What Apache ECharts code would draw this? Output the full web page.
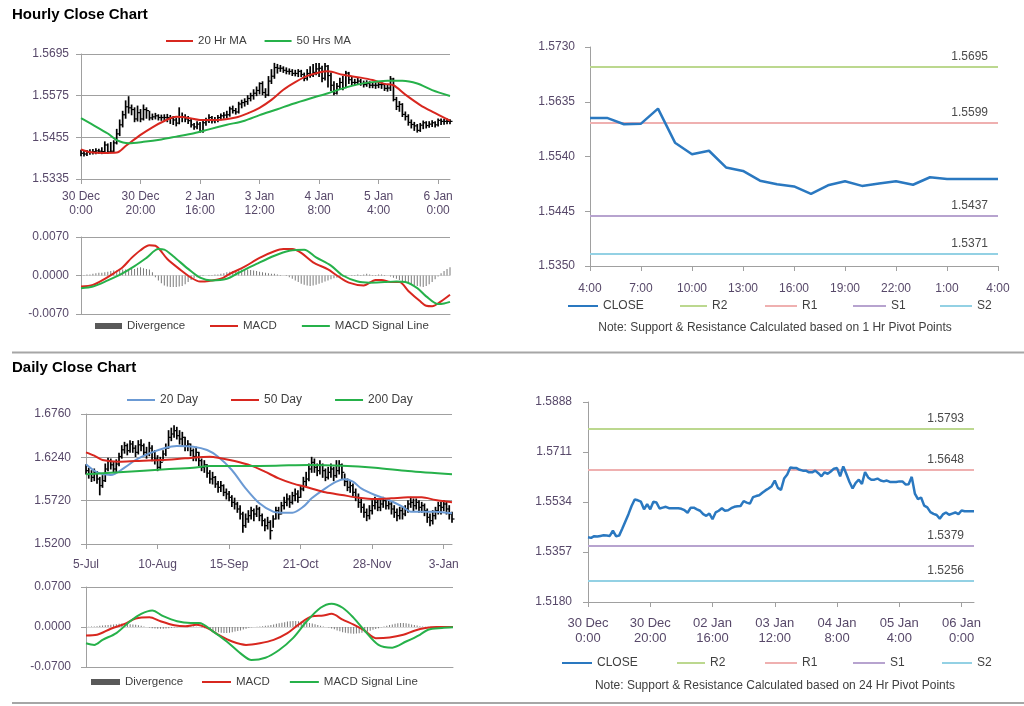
<!DOCTYPE html>
<html><head><meta charset="utf-8">
<script src="https://cdn.jsdelivr.net/npm/echarts@6/dist/echarts.min.js"></script>
<style>html,body{margin:0;padding:0;background:#fff}#c{width:1024px;height:706px}</style>
</head><body><div id="c"></div><script>
// ---------------- DATA ----------------
const hourlyTicks = ['30 Dec\n0:00','30 Dec\n20:00','2 Jan\n16:00','3 Jan\n12:00','4 Jan\n8:00','5 Jan\n4:00','6 Jan\n0:00'];
const hourlyPivotTicks = ['30 Dec\n0:00','30 Dec\n20:00','02 Jan\n16:00','03 Jan\n12:00','04 Jan\n8:00','05 Jan\n4:00','06 Jan\n0:00'];
const hourlyClose = [
1.5409,1.5407,1.5413,1.5412,1.5414,1.5416,1.5415,1.5414,1.5433,1.5413,
1.5415,1.5439,1.5465,1.5491,1.5520,1.5543,1.5540,1.5535,1.5508,1.5526,
1.5508,1.5535,1.5532,1.5511,1.5514,1.5517,1.5512,1.5512,1.5512,1.5512,
1.5510,1.5505,1.5496,1.5514,1.5514,1.5508,1.5503,1.5491,1.5485,1.5493,
1.5473,1.5497,1.5503,1.5512,1.5503,1.5505,1.5512,1.5517,1.5519,1.5520,
1.5537,1.5532,1.5528,1.5551,1.5555,1.5558,1.5567,1.5575,1.5582,1.5590,
1.5610,1.5584,1.5577,1.5617,1.5631,1.5656,1.5654,1.5654,1.5648,1.5645,
1.5645,1.5639,1.5639,1.5645,1.5636,1.5625,1.5639,1.5634,1.5642,1.5652,
1.5654,1.5625,1.5660,1.5633,1.5605,1.5582,1.5602,1.5613,1.5598,1.5640,
1.5621,1.5613,1.5613,1.5617,1.5610,1.5607,1.5610,1.5605,1.5605,1.5605,
1.5607,1.5607,1.5596,1.5597,1.5623,1.5564,1.5544,1.5550,1.5521,1.5515,
1.5498,1.5492,1.5488,1.5475,1.5490,1.5497,1.5489,1.5493,1.5497,1.5491,
1.5504,1.5501,1.5501,1.5501,1.5501];
const hourlyHigh = [
1.5418,1.5415,1.5417,1.5419,1.5420,1.5422,1.5421,1.5425,1.5442,1.5436,
1.5440,1.5445,1.5478,1.5505,1.5530,1.5560,1.5572,1.5548,1.5540,1.5545,
1.5535,1.5548,1.5540,1.5530,1.5522,1.5524,1.5520,1.5519,1.5520,1.5521,
1.5518,1.5515,1.5510,1.5540,1.5525,1.5520,1.5515,1.5508,1.5495,1.5500,
1.5498,1.5505,1.5510,1.5520,1.5515,1.5512,1.5518,1.5522,1.5526,1.5530,
1.5542,1.5545,1.5538,1.5556,1.5562,1.5566,1.5575,1.5582,1.5592,1.5600,
1.5612,1.5615,1.5595,1.5630,1.5650,1.5668,1.5665,1.5662,1.5658,1.5655,
1.5652,1.5650,1.5648,1.5650,1.5648,1.5640,1.5650,1.5658,1.5665,1.5668,
1.5668,1.5660,1.5668,1.5662,1.5640,1.5615,1.5610,1.5625,1.5630,1.5645,
1.5642,1.5628,1.5622,1.5625,1.5622,1.5617,1.5618,1.5615,1.5612,1.5612,
1.5614,1.5613,1.5610,1.5605,1.5630,1.5625,1.5570,1.5558,1.5552,1.5528,
1.5520,1.5505,1.5498,1.5492,1.5495,1.5502,1.5500,1.5500,1.5503,1.5500,
1.5508,1.5508,1.5507,1.5508,1.5506];
const hourlyLow = [
1.5402,1.5401,1.5403,1.5406,1.5407,1.5408,1.5409,1.5408,1.5410,1.5409,
1.5411,1.5412,1.5436,1.5460,1.5485,1.5510,1.5525,1.5520,1.5500,1.5502,
1.5500,1.5505,1.5510,1.5505,1.5506,1.5508,1.5505,1.5504,1.5503,1.5500,
1.5495,1.5492,1.5488,1.5494,1.5500,1.5500,1.5495,1.5485,1.5478,1.5480,
1.5470,1.5470,1.5490,1.5498,1.5496,1.5497,1.5500,1.5506,1.5510,1.5512,
1.5516,1.5525,1.5522,1.5525,1.5540,1.5545,1.5550,1.5560,1.5565,1.5575,
1.5580,1.5578,1.5570,1.5575,1.5610,1.5625,1.5640,1.5645,1.5642,1.5638,
1.5637,1.5633,1.5632,1.5630,1.5630,1.5618,1.5620,1.5628,1.5630,1.5635,
1.5630,1.5615,1.5620,1.5600,1.5590,1.5578,1.5580,1.5595,1.5592,1.5598,
1.5610,1.5605,1.5606,1.5608,1.5605,1.5600,1.5602,1.5598,1.5598,1.5596,
1.5598,1.5596,1.5590,1.5588,1.5590,1.5560,1.5535,1.5530,1.5515,1.5505,
1.5490,1.5482,1.5475,1.5470,1.5472,1.5480,1.5482,1.5484,1.5486,1.5485,
1.5488,1.5492,1.5493,1.5494,1.5494];
const ma20Hour = [[0,1.5420],[4,1.5411],[8,1.5410],[12,1.5411],[15,1.5430],[20,1.5462],[24,1.5484],[28,1.5502],[32,1.5514],[36,1.5511],[40,1.5505],[46,1.5505],[52,1.5512],[56,1.5524],[60,1.5540],[64,1.5563],[68,1.5592],[72,1.5614],[76,1.5632],[80,1.5642],[83,1.5645],[88,1.5635],[94,1.5627],[98,1.5620],[102,1.5609],[105,1.5605],[109,1.5578],[114,1.5548],[118,1.5529],[124,1.5503]];
const ma50Hour = [[0,1.5510],[4,1.5491],[9,1.5466],[12,1.5447],[16,1.5438],[21,1.5442],[27,1.5449],[32,1.5457],[38,1.5467],[43,1.5478],[49,1.5491],[55,1.5503],[60,1.5519],[66,1.5536],[71,1.5551],[77,1.5567],[83,1.5582],[88,1.5596],[94,1.5609],[99,1.5615],[103,1.5618],[108,1.5618],[113,1.5610],[118,1.5591],[124,1.5574]];
const hourlyPriceTicks = [1.5335,1.5455,1.5575,1.5695];
const hourlyDivergence = [
0.0001,0.0001,0.0002,0.0002,0.0003,
0.0004,0.0005,0.0005,0.0006,0.0007,0.0008,
0.0009,0.0009,0.0010,0.0011,0.0011,0.0012,0.0013,0.0012,
0.0014,0.0015,0.0013,0.0012,0.0011,0.0006,
-0.0003,-0.0009,-0.0014,-0.0018,
-0.0020,-0.0021,-0.0021,-0.0021,-0.0020,-0.0019,-0.0016,-0.0012,
-0.0008,-0.0005,-0.0003,-0.0002,-0.0001,0.0000,
0.0001,0.0001,0.0002,0.0002,
0.0003,0.0004,0.0006,0.0007,0.0008,0.0009,0.0010,0.0011,0.0010,0.0011,0.0010,0.0009,0.0008,0.0007,
0.0006,0.0005,0.0004,0.0003,0.0003,0.0002,0.0001,0.0000,-0.0001,-0.0003,
-0.0006,-0.0009,-0.0012,-0.0015,-0.0017,-0.0018,-0.0019,-0.0018,-0.0017,-0.0015,
-0.0013,-0.0011,-0.0009,-0.0007,-0.0005,-0.0004,-0.0003,-0.0002,-0.0001,0.0000,
0.0001,0.0001,0.0002,-0.0001,0.0002,0.0003,0.0002,0.0001,0.0001,0.0002,0.0002,0.0001,0.0000,-0.0002,
-0.0004,-0.0006,-0.0008,-0.0010,-0.0012,-0.0014,-0.0016,-0.0018,-0.0019,-0.0020,-0.0021,-0.0019,-0.0016,-0.0012,-0.0007,-0.0002,
0.0004,0.0008,0.0012,0.0015];
const hourlyMacd = [[0,-0.0020],[4,-0.0017],[8,-0.0006],[11,0.0004],[14,0.0015],[17,0.0032],[20,0.0046],[23,0.0055],[25,0.0054],[29,0.0030],[33,0.0012],[37,-0.0004],[40,-0.0011],[43,-0.0010],[47,-0.0006],[50,0.0003],[55,0.0016],[60,0.0032],[65,0.0044],[68,0.0048],[71,0.0048],[74,0.0041],[78,0.0024],[83,0.0011],[86,0.0000],[90,-0.0013],[95,-0.0018],[99,-0.0008],[101,-0.0008],[104,-0.0012],[107,-0.0012],[110,-0.0028],[114,-0.0047],[116,-0.0055],[118,-0.0056],[121,-0.0047],[124,-0.0035]];
const hourlySignal = [[0,-0.0023],[4,-0.0020],[9,-0.0009],[13,0.0001],[18,0.0017],[22,0.0032],[26,0.0048],[28,0.0047],[31,0.0035],[36,0.0012],[40,-0.0004],[44,-0.0009],[49,-0.0006],[53,0.0005],[59,0.0021],[65,0.0036],[70,0.0045],[75,0.0047],[79,0.0033],[84,0.0018],[88,0.0000],[93,-0.0011],[97,-0.0013],[102,-0.0012],[106,-0.0011],[109,-0.0012],[113,-0.0023],[116,-0.0038],[120,-0.0052],[122,-0.0051],[124,-0.0048]];

const pivot1hTicks = ['4:00','7:00','10:00','13:00','16:00','19:00','22:00','1:00','4:00'];
const pivot1hAxisTicks = [1.5350,1.5445,1.5540,1.5635,1.5730];
const pivot1hClose = hourlyClose.slice(100);
const pivot1hR2 = 1.5695, pivot1hR1 = 1.5599, pivot1hS1 = 1.5437, pivot1hS2 = 1.5371;
const pivot24hAxisTicks = [1.5180,1.5357,1.5534,1.5711,1.5888];
const pivot24hR2 = 1.5793, pivot24hR1 = 1.5648, pivot24hS1 = 1.5379, pivot24hS2 = 1.5256;

const dailyTicks = ['5-Jul','10-Aug','15-Sep','21-Oct','28-Nov','3-Jan'];
const dailyPriceTicks = [1.5200,1.5720,1.6240,1.6760];
const dailyClose = [
1.6080,1.6040,1.6000,1.6060,1.5980,1.5900,1.5960,1.6100,1.6200,1.6150,
1.6100,1.6160,1.6250,1.6330,1.6380,1.6320,1.6400,1.6350,1.6300,1.6390,
1.6380,1.6300,1.6280,1.6350,1.6300,1.6220,1.6120,1.6180,1.6280,1.6350,
1.6480,1.6520,1.6560,1.6500,1.6460,1.6480,1.6380,1.6400,1.6320,1.6250,
1.6300,1.6200,1.6120,1.6150,1.6050,1.5980,1.6000,1.5920,1.5880,1.5900,
1.5820,1.5800,1.5760,1.5700,1.5680,1.5620,1.5560,1.5420,1.5500,1.5540,
1.5600,1.5560,1.5620,1.5540,1.5480,1.5420,1.5460,1.5360,1.5500,1.5600,
1.5560,1.5660,1.5700,1.5740,1.5700,1.5780,1.5800,1.5760,1.5860,1.5950,
1.5980,1.6100,1.6180,1.6120,1.6080,1.6150,1.6080,1.6000,1.6060,1.6100,
1.6020,1.6080,1.6150,1.6060,1.5950,1.5880,1.5900,1.5820,1.5760,1.5700,
1.5640,1.5580,1.5540,1.5600,1.5660,1.5700,1.5640,1.5680,1.5720,1.5660,
1.5680,1.5620,1.5580,1.5540,1.5600,1.5560,1.5620,1.5680,1.5700,1.5660,
1.5700,1.5640,1.5660,1.5600,1.5520,1.5480,1.5540,1.5600,1.5660,1.5640,
1.5680,1.5620,1.5560,1.5500];
const dailyHigh = [
1.6150,1.6110,1.6080,1.6100,1.6070,1.6000,1.6020,1.6160,1.6230,1.6220,
1.6180,1.6210,1.6290,1.6380,1.6420,1.6400,1.6440,1.6430,1.6380,1.6440,
1.6450,1.6400,1.6360,1.6420,1.6380,1.6320,1.6260,1.6240,1.6320,1.6400,
1.6560,1.6590,1.6620,1.6600,1.6560,1.6540,1.6480,1.6440,1.6400,1.6340,
1.6360,1.6300,1.6220,1.6200,1.6150,1.6080,1.6060,1.6010,1.5950,1.5950,
1.5910,1.5860,1.5830,1.5780,1.5750,1.5700,1.5660,1.5580,1.5560,1.5600,
1.5640,1.5620,1.5660,1.5640,1.5560,1.5500,1.5520,1.5480,1.5540,1.5640,
1.5640,1.5700,1.5760,1.5800,1.5780,1.5820,1.5860,1.5840,1.5900,1.6000,
1.6060,1.6160,1.6240,1.6220,1.6160,1.6200,1.6160,1.6100,1.6120,1.6160,
1.6120,1.6200,1.6200,1.6160,1.6040,1.5980,1.5960,1.5920,1.5860,1.5800,
1.5740,1.5680,1.5620,1.5660,1.5720,1.5760,1.5740,1.5740,1.5760,1.5740,
1.5730,1.5700,1.5660,1.5620,1.5640,1.5640,1.5660,1.5720,1.5760,1.5740,
1.5740,1.5720,1.5700,1.5680,1.5620,1.5560,1.5600,1.5640,1.5700,1.5700,
1.5720,1.5700,1.5660,1.5580];
const dailyLow = [
1.6040,1.5990,1.5950,1.5960,1.5930,1.5790,1.5880,1.5950,1.6080,1.6100,
1.6060,1.6060,1.6140,1.6230,1.6290,1.6270,1.6300,1.6300,1.6250,1.6280,
1.6320,1.6260,1.6230,1.6260,1.6200,1.6160,1.6080,1.6100,1.6200,1.6260,
1.6350,1.6440,1.6480,1.6460,1.6400,1.6380,1.6320,1.6320,1.6260,1.6200,
1.6200,1.6140,1.6080,1.6060,1.6000,1.5930,1.5920,1.5880,1.5820,1.5830,
1.5780,1.5740,1.5720,1.5650,1.5620,1.5580,1.5500,1.5340,1.5400,1.5460,
1.5500,1.5480,1.5530,1.5480,1.5420,1.5360,1.5380,1.5260,1.5400,1.5500,
1.5500,1.5560,1.5620,1.5660,1.5640,1.5680,1.5720,1.5700,1.5760,1.5840,
1.5900,1.5960,1.6060,1.6060,1.6020,1.6040,1.6000,1.5960,1.5980,1.6000,
1.5960,1.6000,1.6040,1.5980,1.5900,1.5840,1.5820,1.5780,1.5720,1.5640,
1.5580,1.5520,1.5480,1.5500,1.5560,1.5620,1.5600,1.5600,1.5640,1.5620,
1.5620,1.5560,1.5520,1.5480,1.5500,1.5500,1.5540,1.5580,1.5640,1.5600,
1.5620,1.5580,1.5580,1.5540,1.5460,1.5420,1.5440,1.5500,1.5560,1.5560,
1.5600,1.5560,1.5500,1.5460];
const ma20Day = [[0,1.6156],[4,1.6060],[9,1.6028],[14,1.6116],[18,1.6208],[23,1.6288],[29,1.6356],[33,1.6376],[39,1.6368],[44,1.6328],[48,1.6248],[53,1.6088],[58,1.5868],[63,1.5688],[68,1.5588],[71,1.5576],[75,1.5576],[79,1.5648],[82,1.5748],[87,1.5868],[91,1.5948],[94,1.5976],[97,1.5948],[100,1.5868],[105,1.5788],[110,1.5728],[115,1.5648],[118,1.5588],[122,1.5588],[127,1.5588],[133,1.5568]];
const ma50Day = [[0,1.6300],[3,1.6260],[6,1.6208],[12,1.6188],[18,1.6196],[27,1.6208],[36,1.6228],[45,1.6248],[48,1.6236],[54,1.6196],[60,1.6140],[65,1.6068],[70,1.5988],[75,1.5928],[81,1.5876],[87,1.5820],[93,1.5788],[99,1.5756],[105,1.5740],[111,1.5748],[117,1.5760],[122,1.5760],[127,1.5728],[133,1.5700]];
const ma200Day = [[0,1.6036],[6,1.6048],[12,1.6060],[21,1.6080],[29,1.6096],[39,1.6116],[45,1.6136],[57,1.6136],[69,1.6140],[81,1.6148],[93,1.6140],[105,1.6116],[117,1.6076],[133,1.6036]];
const dailyDivergence = [
0.0000,0.0005,0.0010,0.0010,0.0015,0.0020,0.0025,
0.0030,0.0035,0.0040,0.0045,0.0050,0.0055,0.0060,0.0060,0.0055,0.0050,0.0045,0.0040,0.0030,0.0020,0.0010,
0.0000,-0.0010,-0.0020,-0.0025,-0.0030,-0.0030,-0.0030,-0.0025,-0.0020,
-0.0015,-0.0010,-0.0005,0.0000,0.0005,0.0010,0.0015,0.0015,0.0010,0.0005,0.0000,-0.0010,-0.0020,-0.0035,
-0.0050,-0.0065,-0.0080,-0.0090,-0.0100,-0.0105,-0.0105,-0.0100,-0.0090,-0.0080,-0.0070,-0.0060,-0.0045,-0.0030,-0.0015,-0.0005,
0.0000,0.0005,0.0010,0.0015,0.0020,0.0025,0.0035,0.0045,0.0055,
0.0065,0.0075,0.0085,0.0095,0.0100,0.0105,0.0105,0.0100,0.0095,0.0090,0.0080,0.0070,0.0060,0.0050,0.0035,
0.0020,0.0010,0.0000,-0.0010,-0.0025,-0.0040,-0.0060,-0.0075,
-0.0090,-0.0100,-0.0110,-0.0115,-0.0120,-0.0115,-0.0110,-0.0100,-0.0090,-0.0080,-0.0065,-0.0050,-0.0035,-0.0020,-0.0005,0.0010,
0.0020,0.0035,0.0045,0.0055,0.0065,0.0070,0.0070,0.0065,0.0055,0.0045,0.0035,0.0025,0.0015,0.0010,
0.0005,0.0005,0.0005,0.0000,0.0000,0.0000,0.0000,0.0000,0.0000,0.0000,0.0000];
const dailyMacd = [[0,-0.0148],[4,-0.0136],[9,-0.0030],[14,0.0053],[18,0.0148],[23,0.0171],[27,0.0100],[32,0.0030],[36,0.0012],[40,0.0041],[44,-0.0018],[48,-0.0136],[53,-0.0254],[58,-0.0313],[63,-0.0284],[68,-0.0225],[73,-0.0106],[77,0.0041],[82,0.0189],[86,0.0201],[89,0.0230],[93,0.0130],[97,0.0041],[101,-0.0065],[105,-0.0195],[110,-0.0183],[115,-0.0136],[119,-0.0065],[123,-0.0018],[127,0.0000],[133,0.0000]];
const dailySignal = [[0,-0.0284],[3,-0.0313],[6,-0.0225],[11,-0.0106],[16,0.0100],[20,0.0230],[24,0.0290],[28,0.0189],[33,0.0100],[38,0.0071],[41,0.0071],[46,-0.0077],[51,-0.0254],[56,-0.0461],[60,-0.0579],[65,-0.0538],[70,-0.0402],[75,-0.0195],[80,0.0100],[85,0.0337],[89,0.0408],[93,0.0337],[97,0.0160],[101,-0.0065],[106,-0.0313],[111,-0.0361],[116,-0.0254],[121,-0.0136],[124,-0.0047],[129,-0.0018],[133,-0.0006]];

// ---------------- STYLE ----------------
const FONT = '"Liberation Sans", Arial, sans-serif';
const LBL = '#574869';
const AX = '#a0a0a0';
const RED = '#d8271f', GREEN = '#26b14a', BLUE20 = '#6b9ad4', CLOSEC = '#2a78c0';
const R2C = '#bcd88f', R1C = '#efb0b0', S1C = '#b7a3cf', S2C = '#93d1e4';

const cats = n => Array.from({length: n}, (_, i) => String(i));
const fmt4 = v => Number(v).toFixed(4);

function catX(grid, n, every, ticks, opt) {
  opt = opt || {};
  return {
    type: 'category', gridIndex: grid, data: cats(n), boundaryGap: false,
    axisLine: {show: true, onZero: false, lineStyle: {color: AX, width: 1}},
    axisTick: {show: !!ticks, interval: every - 1, length: 5, lineStyle: {color: AX}},
    axisLabel: {show: !!ticks, interval: every - 1, color: LBL, fontSize: opt.fs || 12, lineHeight: opt.lh || 14, margin: opt.margin || 10,
      fontFamily: FONT, formatter: v => (ticks && ticks[Number(v) / every]) || ''},
    splitLine: {show: false}
  };
}
function valY(grid, min, max, ticks, grid_lines, opt) {
  opt = opt || {};
  return {
    type: 'value', gridIndex: grid, min: min, max: max,
    axisLine: {show: true, lineStyle: {color: AX}},
    axisTick: {show: true, length: 5, lineStyle: {color: AX}, customValues: ticks},
    axisLabel: {color: LBL, fontSize: 12, margin: opt.margin || 12, fontFamily: FONT, customValues: ticks, formatter: fmt4},
    splitLine: {show: grid_lines, lineStyle: {color: opt.splitColor || AX, width: 1}}
  };
}
function maLine(name, data, color, xi, w) {
  return {type: 'line', name: name, xAxisIndex: xi, yAxisIndex: xi, data: data, smooth: 0.3, symbol: 'none',
    lineStyle: {color: color, width: w || 2}, itemStyle: {color: color}, color: color, z: 3, silent: true};
}
function barsSeries(xi, hi, lo, cl) {
  return {type: 'custom', name: 'bars' + xi, xAxisIndex: xi, yAxisIndex: xi, silent: true, z: 2,
    data: cl.map((c, i) => [i, hi[i], lo[i], c]),
    encode: {x: 0, y: [1, 2, 3]},
    renderItem: (params, api) => {
      const x = api.value(0);
      const h = api.coord([x, api.value(1)]);
      const l = api.coord([x, api.value(2)]);
      const c = api.coord([x, api.value(3)]);
      return {type: 'group', children: [
        {type: 'line', shape: {x1: h[0], y1: h[1] - 0.5, x2: l[0], y2: l[1] + 0.5}, style: {stroke: '#000', lineWidth: 1.7}},
        {type: 'line', shape: {x1: c[0], y1: c[1], x2: c[0] + 2.5, y2: c[1]}, style: {stroke: '#000', lineWidth: 1.2}}
      ]};
    }};
}
function divSeries(xi, data) {
  return {type: 'bar', name: 'Divergence', xAxisIndex: xi, yAxisIndex: xi, data: data, barWidth: 1, silent: true,
    itemStyle: {color: '#7a7a7a'}, color: '#7a7a7a', z: 1};
}
function pivotSeries(name, val, color, xi) {
  return {type: 'line', name: name, xAxisIndex: xi, yAxisIndex: xi, data: [], symbol: 'none', color: color,
    itemStyle: {color: color}, lineStyle: {color: color, width: 2}, silent: true,
    markLine: {silent: true, symbol: 'none', animation: false, precision: 4,
      lineStyle: {color: color, width: 2, type: 'solid'},
      label: {show: true, position: 'insideEndTop', distance: [10, 4], color: '#4a4a4a', fontSize: 12, fontFamily: FONT,
        formatter: () => val.toFixed(4)},
      emphasis: {disabled: true},
      data: [{yAxis: val}]}};
}
function lg(names, left, top, opt) {
  opt = opt || {};
  return {data: names, left: left, top: top, orient: 'horizontal', selectedMode: false, icon: 'rect',
    itemWidth: opt.w || 28, itemHeight: opt.h || 2, itemGap: opt.gap || 20, padding: 0,
    itemStyle: {borderWidth: 0},
    textStyle: {fontSize: opt.fs || 12, color: '#404040', fontFamily: FONT, padding: [0, 0, 0, 0]}};
}
const divLegendItem = [{name: 'Divergence', itemStyle: {color: '#595959'}}];

const option = {
  animation: false,
  backgroundColor: '#fff',
  textStyle: {fontFamily: FONT},
  grid: [
    {left: 81, top: 54, width: 369, height: 125},      // 0 hourly price
    {left: 81, top: 237, width: 369, height: 77},      // 1 hourly macd
    {left: 590, top: 47, width: 408, height: 219},     // 2 1h pivot
    {left: 86, top: 414, width: 366, height: 130},     // 3 daily price
    {left: 86, top: 587, width: 367, height: 80},      // 4 daily macd
    {left: 588, top: 402, width: 386, height: 200}     // 5 24h pivot
  ],
  xAxis: [
    catX(0, 125, 20, hourlyTicks, {margin: 11, lh: 14}),
    catX(1, 125, 20, null),
    catX(2, 25, 3, pivot1hTicks, {margin: 16}),
    catX(3, 134, 26, dailyTicks, {margin: 14}),
    catX(4, 134, 26, null),
    catX(5, 125, 20, hourlyPivotTicks, {fs: 13, lh: 15, margin: 14})
  ],
  yAxis: [
    valY(0, 1.5335, 1.5695, hourlyPriceTicks, true),
    valY(1, -0.007, 0.007, [-0.007, 0, 0.007], true, {splitColor: ['#a0a0a0', '#d8d8d8', '#a0a0a0']}),
    valY(2, 1.5350, 1.5730, pivot1hAxisTicks, false, {margin: 15}),
    valY(3, 1.5200, 1.6760, dailyPriceTicks, true, {margin: 15}),
    valY(4, -0.07, 0.07, [-0.07, 0, 0.07], true, {margin: 15, splitColor: ['#a0a0a0', '#d8d8d8', '#a0a0a0']}),
    valY(5, 1.5180, 1.5888, pivot24hAxisTicks, false, {margin: 16})
  ],
  legend: [
    lg(['20 Hr MA', '50 Hrs MA'], 166, 35, {w: 27, gap: 18, fs: 11.5}),
    lg(divLegendItem, 95, 320, {w: 27, h: 6, fs: 11.5}),
    lg(['MACD', 'MACD Signal Line'], 210, 320, {w: 28, gap: 25, fs: 11.5}),
    lg(['20 Day', '50 Day', '200 Day'], 127, 394, {w: 28, gap: 33}),
    lg(divLegendItem, 91, 676, {w: 29, h: 6, fs: 11.5}),
    lg(['MACD', 'MACD Signal Line'], 202, 676, {w: 29, gap: 20, fs: 11.5}),
    lg(['CLOSE'], 568, 300, {w: 30}), lg(['R2'], 680, 300, {w: 27}), lg(['R1'], 765, 300, {w: 32}),
    lg(['S1'], 853, 300, {w: 33}), lg(['S2'], 940, 300, {w: 32}),
    lg(['CLOSE'], 562, 657, {w: 30}), lg(['R2'], 677, 657, {w: 28}), lg(['R1'], 765, 657, {w: 32}),
    lg(['S1'], 853, 657, {w: 32}), lg(['S2'], 942, 657, {w: 30})
  ],
  series: [
    barsSeries(0, hourlyHigh, hourlyLow, hourlyClose),
    maLine('20 Hr MA', ma20Hour, RED, 0),
    maLine('50 Hrs MA', ma50Hour, GREEN, 0),
    divSeries(1, hourlyDivergence),
    maLine('MACD', hourlyMacd, RED, 1),
    maLine('MACD Signal Line', hourlySignal, GREEN, 1),
    pivotSeries('R2', pivot1hR2, R2C, 2),
    pivotSeries('R1', pivot1hR1, R1C, 2),
    pivotSeries('S1', pivot1hS1, S1C, 2),
    pivotSeries('S2', pivot1hS2, S2C, 2),
    {type: 'line', name: 'CLOSE', xAxisIndex: 2, yAxisIndex: 2, data: pivot1hClose, symbol: 'none', color: CLOSEC,
      itemStyle: {color: CLOSEC}, lineStyle: {color: CLOSEC, width: 2.5}, z: 5, silent: true},
    barsSeries(3, dailyHigh, dailyLow, dailyClose),
    maLine('20 Day', ma20Day, BLUE20, 3),
    maLine('50 Day', ma50Day, RED, 3),
    maLine('200 Day', ma200Day, GREEN, 3),
    divSeries(4, dailyDivergence),
    maLine('MACD', dailyMacd, RED, 4),
    maLine('MACD Signal Line', dailySignal, GREEN, 4),
    pivotSeries('R2', pivot24hR2, R2C, 5),
    pivotSeries('R1', pivot24hR1, R1C, 5),
    pivotSeries('S1', pivot24hS1, S1C, 5),
    pivotSeries('S2', pivot24hS2, S2C, 5),
    {type: 'line', name: 'CLOSE', xAxisIndex: 5, yAxisIndex: 5, data: hourlyClose, symbol: 'none', color: CLOSEC,
      itemStyle: {color: CLOSEC}, lineStyle: {color: CLOSEC, width: 2.5}, z: 5, silent: true}
  ],
  graphic: [
    {type: 'text', left: 12, top: 7, style: {text: 'Hourly Close Chart', font: 'bold 15px ' + FONT, fill: '#000'}},
    {type: 'text', left: 12, top: 360, style: {text: 'Daily Close Chart', font: 'bold 15px ' + FONT, fill: '#000'}},
    {type: 'line', shape: {x1: 12, y1: 352.5, x2: 1024, y2: 352.5}, style: {stroke: '#a6a6a6', lineWidth: 2}},
    {type: 'line', shape: {x1: 12, y1: 703, x2: 1024, y2: 703}, style: {stroke: '#a6a6a6', lineWidth: 2}},
    {type: 'text', x: 775, y: 328, style: {text: 'Note: Support & Resistance Calculated based on 1 Hr Pivot Points',
      textAlign: 'center', textVerticalAlign: 'middle', font: '12px ' + FONT, fill: '#404040'}},
    {type: 'text', x: 775, y: 686, style: {text: 'Note: Support & Resistance Calculated based on 24 Hr Pivot Points',
      textAlign: 'center', textVerticalAlign: 'middle', font: '12px ' + FONT, fill: '#404040'}}
  ]
};
const chart = echarts.init(document.getElementById('c'));
chart.setOption(option);
</script></body></html>
